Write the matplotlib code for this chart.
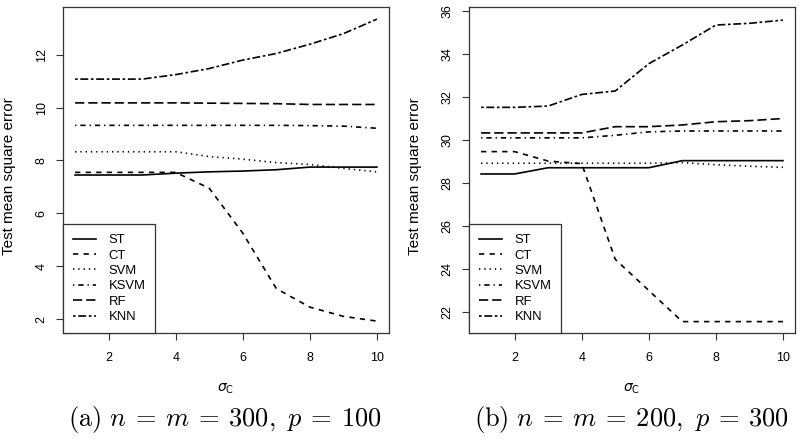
import matplotlib
matplotlib.use("Agg")
import matplotlib.pyplot as plt

plt.rcParams['font.family'] = ['Liberation Sans', 'DejaVu Sans']
plt.rcParams['lines.scale_dashes'] = False

sigma_c = [1, 2, 3, 4, 5, 6, 7, 8, 9, 10]
methods = ["ST", "CT", "SVM", "KSVM", "RF", "KNN"]

# panel (a): n = m = 300, p = 100
mse_a = {
    "ST":   [7.45, 7.45, 7.45, 7.52, 7.57, 7.60, 7.65, 7.75, 7.75, 7.75],
    "CT":   [7.55, 7.55, 7.55, 7.55, 6.95, 5.25, 3.15, 2.45, 2.10, 1.92],
    "SVM":  [8.33, 8.33, 8.33, 8.33, 8.15, 8.05, 7.92, 7.85, 7.70, 7.57],
    "KSVM": [9.33, 9.33, 9.33, 9.33, 9.33, 9.33, 9.33, 9.32, 9.30, 9.22],
    "RF":   [10.18, 10.18, 10.18, 10.18, 10.17, 10.16, 10.15, 10.12, 10.12, 10.12],
    "KNN":  [11.08, 11.08, 11.08, 11.25, 11.48, 11.80, 12.05, 12.40, 12.80, 13.35],
}
# panel (b): n = m = 200, p = 300
mse_b = {
    "ST":   [28.42, 28.42, 28.71, 28.71, 28.71, 28.71, 29.04, 29.04, 29.04, 29.04],
    "CT":   [29.46, 29.46, 29.02, 28.90, 24.45, 23.00, 21.55, 21.55, 21.55, 21.55],
    "SVM":  [28.92, 28.92, 28.92, 28.92, 28.92, 28.92, 28.95, 28.85, 28.78, 28.73],
    "KSVM": [30.10, 30.10, 30.10, 30.10, 30.22, 30.38, 30.42, 30.42, 30.42, 30.42],
    "RF":   [30.33, 30.33, 30.33, 30.33, 30.62, 30.62, 30.70, 30.85, 30.90, 31.00],
    "KNN":  [31.52, 31.52, 31.58, 32.12, 32.28, 33.55, 34.42, 35.35, 35.43, 35.58],
}

# R lty patterns (on/off in points)
u = 0.95
styles = {
    "ST":   "-",
    "CT":   (0, (4 * u, 4 * u)),
    "SVM":  (0, (1 * u, 3 * u)),
    "KSVM": (0, (1 * u, 3 * u, 4 * u, 3 * u)),
    "RF":   (0, (7 * u, 3 * u)),
    "KNN":  (0, (2 * u, 2 * u, 6 * u, 2 * u)),
}

fig = plt.figure(figsize=(8, 4.42), dpi=100)
ax1 = fig.add_axes([0.07875, 0.2466, 0.4075, 0.7376])
ax2 = fig.add_axes([0.58625, 0.2466, 0.4075, 0.7376])


def draw(ax, data, yticks, ylim):
    for m in methods:
        ax.plot(sigma_c, data[m], color="black", lw=1.2, ls=styles[m],
                dash_capstyle="butt", label=m)
    ax.set_xlim(0.64, 10.36)
    ax.set_ylim(*ylim)
    ax.set_xticks([2, 4, 6, 8, 10])
    ax.set_yticks(yticks)
    ax.tick_params(direction="out", length=5, width=0.8, labelsize=9,
                   color="#333333")
    ax.tick_params(axis="x", pad=9)
    ax.tick_params(axis="y", pad=6)
    for lab in ax.get_yticklabels():
        lab.set_rotation(90)
        lab.set_va("center")
    for s in ax.spines.values():
        s.set_linewidth(0.9)
        s.set_color("#333333")
    ax.set_ylabel("Test mean square error", fontsize=11)
    ax.yaxis.set_label_coords(-0.145, 0.48)
    ax.set_xlabel(r"$\sigma_{\mathrm{C}}$", fontsize=10,
                  math_fontfamily="dejavusans")
    ax.xaxis.set_label_coords(0.5, -0.15)
    leg = ax.legend(loc="lower left", bbox_to_anchor=(0, 0), borderaxespad=0,
                    fancybox=False, edgecolor="#333333", fontsize=9.4,
                    handlelength=1.8, handletextpad=0.95, labelspacing=0.25,
                    borderpad=0.75)
    leg.get_frame().set_linewidth(0.9)
    leg.get_frame().set_alpha(1)


draw(ax1, mse_a, [2, 4, 6, 8, 10, 12], (1.47, 13.81))
draw(ax2, mse_b, [22, 24, 26, 28, 30, 32, 34, 36], (21.02, 36.19))

fig.text(0.281, 0.05, r"$\mathrm{(a)}\ n\:=\:m\:=\:300,\ p\:=\:100$",
         fontsize=19, ha="center", va="center", math_fontfamily="cm")
fig.text(0.79, 0.05, r"$\mathrm{(b)}\ n\:=\:m\:=\:200,\ p\:=\:300$",
         fontsize=19, ha="center", va="center", math_fontfamily="cm")

fig.savefig("out.png", dpi=100)
